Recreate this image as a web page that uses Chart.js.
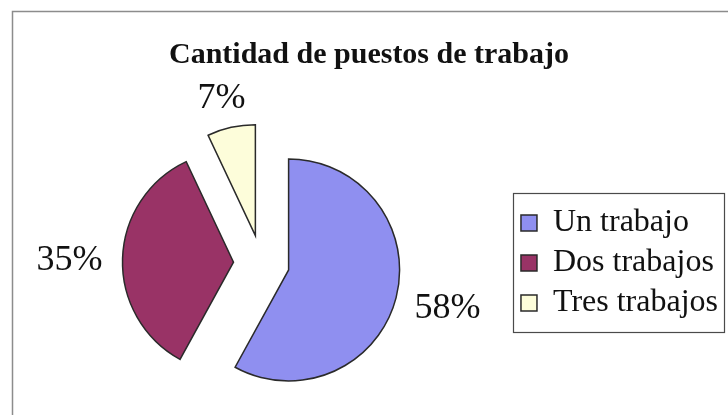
<!DOCTYPE html>
<html>
<head>
<meta charset="utf-8">
<script src="https://cdn.jsdelivr.net/npm/chart.js@4.4.1/dist/chart.umd.min.js"></script>
<style>
  html, body { margin: 0; padding: 0; background: #fff; }
  canvas { display: block; }
</style>
</head>
<body>
<canvas id="trabajos" width="728" height="415"></canvas>
<script>
// data
const categories = ['Un trabajo', 'Dos trabajos', 'Tres trabajos'];
const shares = [58, 35, 7];

const sliceColors = ['#8f8ff0', '#993366', '#fdfdda'];
const EXPLODE = 28;     // how far each slice is pulled out
const LABEL_GAP = 20;

// pie slice that is pushed out along its middle angle, without growing
class ExplodedArc extends Chart.ArcElement {
    draw(ctx) {
        const mid = (this.startAngle + this.endAngle) / 2;
        ctx.save();
        ctx.translate(Math.cos(mid) * EXPLODE, Math.sin(mid) * EXPLODE);
        super.draw(ctx);
        ctx.restore();
    }
}
ExplodedArc.id = 'explodedArc';

class ExplodedPie extends Chart.PieController {}
ExplodedPie.id = 'explodedPie';
ExplodedPie.defaults = { dataElementType: 'explodedArc' };

Chart.register(ExplodedArc, ExplodedPie);

const framePlugin = {
    id: 'frame',
    beforeDraw: function (chart) {
        const ctx = chart.ctx;
        ctx.save();
        ctx.fillStyle = '#ffffff';
        ctx.fillRect(0, 0, chart.width, chart.height);
        ctx.strokeStyle = '#8c8c8c';
        ctx.lineWidth = 1.5;
        ctx.beginPath();
        ctx.moveTo(chart.width, 11.5);
        ctx.lineTo(12.5, 11.5);
        ctx.lineTo(12.5, chart.height);
        ctx.stroke();
        ctx.restore();
    },
    afterDraw: function (chart) {
        // box round the legend
        const boxes = chart.legend.legendHitBoxes;
        if (!boxes || !boxes.length) return;
        let l = Infinity, t = Infinity, r = -Infinity, b = -Infinity;
        boxes.forEach(function (h) {
            l = Math.min(l, h.left);
            t = Math.min(t, h.top);
            r = Math.max(r, h.left + h.width);
            b = Math.max(b, h.top + h.height);
        });
        const ctx = chart.ctx;
        ctx.save();
        ctx.strokeStyle = '#4a4a4a';
        ctx.lineWidth = 1.2;
        ctx.strokeRect(Math.round(l - 8) + 0.5, Math.round(t - 14) + 0.5,
            Math.round(r - l + 14), Math.round(b - t + 27));
        ctx.restore();
    }
};

const percentLabels = {
    id: 'percentLabels',
    afterDatasetsDraw: function (chart) {
        const ctx = chart.ctx;
        const meta = chart.getDatasetMeta(0);
        ctx.save();
        ctx.font = '36px "Liberation Serif", "Times New Roman", serif';
        ctx.fillStyle = '#111';
        ctx.textAlign = 'center';
        ctx.textBaseline = 'alphabetic';
        meta.data.forEach(function (arc, i) {
            const mid = (arc.startAngle + arc.endAngle) / 2;
            const dx = Math.cos(mid), dy = Math.sin(mid);
            const text = shares[i] + '%';
            const w = ctx.measureText(text).width;
            const h = 25;
            const r = arc.outerRadius + EXPLODE + LABEL_GAP;
            const x = arc.x + dx * r + dx * w / 2;
            const y = arc.y + dy * r + dy * h / 2;
            ctx.fillText(text, x, y + h / 2);
        });
        ctx.restore();
    }
};

const ctx = document.getElementById('trabajos').getContext('2d');
const chart = new Chart(ctx, {
    type: 'explodedPie',
    data: {
        labels: categories,
        datasets: [{
            data: shares,
            backgroundColor: sliceColors,
            borderColor: '#2a2a2a',
            borderWidth: 1.5,
            borderJoinStyle: 'miter'
        }]
    },
    options: {
        responsive: false,
        animation: false,
        events: [],
        radius: 111,
        layout: { padding: { left: 10, right: 0, top: 0, bottom: 0 } },
        plugins: {
            title: {
                display: true,
                text: 'Cantidad de puestos de trabajo',
                color: '#111',
                font: { family: '"Liberation Serif", "Times New Roman", serif', size: 30, weight: 'bold' },
                padding: { top: 37, bottom: 38 }
            },
            legend: {
                position: 'right',
                fullSize: false,
                labels: {
                    color: '#111',
                    font: { family: '"Liberation Serif", "Times New Roman", serif', size: 32 },
                    boxWidth: 16,
                    boxHeight: 16,
                    padding: 8
                }
            },
            tooltip: { enabled: false }
        }
    },
    plugins: [framePlugin, percentLabels]
});
</script>
</body>
</html>
